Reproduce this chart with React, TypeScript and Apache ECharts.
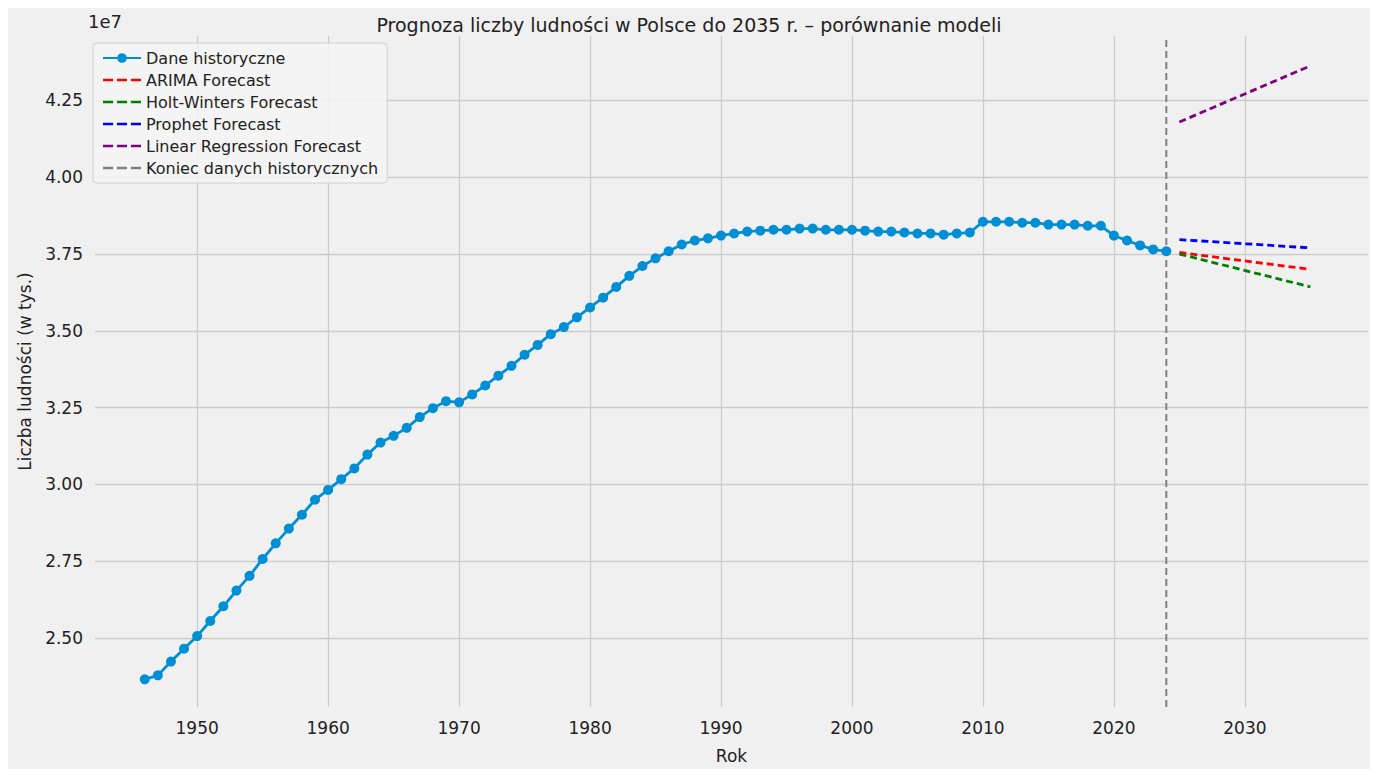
import { useEffect, useRef } from "react";
import * as echarts from "echarts";

// historical population, in millions
const years = [
  1946, 1947, 1948, 1949, 1950, 1951, 1952, 1953, 1954, 1955, 1956, 1957, 1958, 1959,
  1960, 1961, 1962, 1963, 1964, 1965, 1966, 1967, 1968, 1969, 1970, 1971, 1972, 1973,
  1974, 1975, 1976, 1977, 1978, 1979, 1980, 1981, 1982, 1983, 1984, 1985, 1986, 1987,
  1988, 1989, 1990, 1991, 1992, 1993, 1994, 1995, 1996, 1997, 1998, 1999, 2000, 2001,
  2002, 2003, 2004, 2005, 2006, 2007, 2008, 2009, 2010, 2011, 2012, 2013, 2014, 2015,
  2016, 2017, 2018, 2019, 2020, 2021, 2022, 2023, 2024,
];
const population = [
  23.65, 23.78, 24.23, 24.65, 25.06, 25.55, 26.03, 26.54, 27.02, 27.57, 28.08, 28.56,
  29.01, 29.5, 29.82, 30.17, 30.52, 30.97, 31.36, 31.58, 31.84, 32.19, 32.48, 32.71,
  32.67, 32.93, 33.22, 33.54, 33.86, 34.22, 34.54, 34.89, 35.12, 35.44, 35.76, 36.08,
  36.43, 36.79, 37.11, 37.36, 37.59, 37.81, 37.94, 38.01, 38.1, 38.17, 38.23, 38.26,
  38.29, 38.29, 38.33, 38.33, 38.29, 38.29, 38.29, 38.26, 38.23, 38.23, 38.2, 38.17,
  38.17, 38.13, 38.17, 38.2, 38.55, 38.55, 38.55, 38.52, 38.52, 38.46, 38.46, 38.46,
  38.42, 38.42, 38.1, 37.94, 37.78, 37.65, 37.59,
];
const forecastYears = [2025, 2035];
const arima = [37.55, 37.0];
const holtWinters = [37.5, 36.43];
const prophet = [37.97, 37.7];
const linearReg = [41.8, 43.63];
const lastYear = 2024;
const xTicks = [1950, 1960, 1970, 1980, 1990, 2000, 2010, 2020, 2030];
const yTicks = [25, 27.5, 30, 32.5, 35, 37.5, 40, 42.5];

const Y_MIN = 22.75;
const Y_MAX = 44.6;

const zip = (xs: number[], ys: number[]) => xs.map((x, i) => [x, ys[i]]);

const DASH_ICON = "path://M0,4h8v2h-8zM11,4h8v2h-8zM22,4h8v2h-8z";

export default function App() {
  const ref = useRef<HTMLDivElement>(null);

  useEffect(() => {
    const chart = echarts.init(ref.current!, null, { renderer: "svg" });
    const font = "DejaVu Sans";
    const dashed = (name: string, color: string, vals: number[]) => ({
      name,
      type: "line",
      data: zip(forecastYears, vals),
      symbol: "none",
      lineStyle: { color, width: 2.8, type: [7, 4] },
      itemStyle: { color },
    });
    chart.setOption({
      animation: false,
      backgroundColor: "#f0f0f0",
      textStyle: { fontFamily: font },
      title: {
        text: "Prognoza liczby ludności w Polsce do 2035 r. – porównanie modeli",
        left: "center",
        top: 2,
        textStyle: { fontSize: 19, fontWeight: "normal", color: "#222", fontFamily: font },
      },
      graphic: [
        { type: "text", left: 80, top: 4, style: { text: "1e7", fontSize: 18, fill: "#222", fontFamily: font } },
      ],
      legend: {
        orient: "vertical",
        left: 85,
        top: 35,
        backgroundColor: "rgba(245,245,245,0.85)",
        borderColor: "#d0d0d0",
        borderWidth: 1,
        borderRadius: 4,
        padding: [7, 9],
        itemGap: 6,
        itemWidth: 38,
        itemHeight: 12,
        textStyle: { fontSize: 16, color: "#222", fontFamily: font },
        data: [
          { name: "Dane historyczne" },
          { name: "ARIMA Forecast", icon: DASH_ICON },
          { name: "Holt-Winters Forecast", icon: DASH_ICON },
          { name: "Prophet Forecast", icon: DASH_ICON },
          { name: "Linear Regression Forecast", icon: DASH_ICON },
          { name: "Koniec danych historycznych", icon: DASH_ICON },
        ],
      },
      grid: { left: 85, right: 2, top: 28, bottom: 53 },
      xAxis: {
        type: "value",
        min: 1942.2,
        max: 2039.4,
        name: "Rok",
        nameLocation: "middle",
        nameGap: 40,
        nameTextStyle: { fontSize: 17, color: "#222" },
        axisLine: { show: false },
        axisTick: { show: false, customValues: xTicks },
        axisLabel: {
          customValues: xTicks,
          fontSize: 17,
          color: "#222",
          margin: 12,
          formatter: (v: number) => String(v),
        },
        splitLine: { show: true, lineStyle: { color: "#cbcbcb", width: 1.3 } },
      },
      yAxis: {
        type: "value",
        min: Y_MIN,
        max: Y_MAX,
        name: "Liczba ludności (w tys.)",
        nameLocation: "middle",
        nameGap: 62,
        nameTextStyle: { fontSize: 17, color: "#222" },
        axisLine: { show: false },
        axisTick: { show: false, customValues: yTicks },
        axisLabel: {
          customValues: yTicks,
          fontSize: 17,
          color: "#222",
          margin: 12,
          formatter: (v: number) => (v / 10).toFixed(2),
        },
        splitLine: { show: true, lineStyle: { color: "#cbcbcb", width: 1.3 } },
      },
      series: [
        {
          name: "Dane historyczne",
          type: "line",
          data: zip(years, population),
          symbol: "circle",
          symbolSize: 10,
          lineStyle: { color: "#008fd5", width: 2.8 },
          itemStyle: { color: "#008fd5" },
        },
        dashed("ARIMA Forecast", "#ff0000", arima),
        dashed("Holt-Winters Forecast", "#008000", holtWinters),
        dashed("Prophet Forecast", "#0000ff", prophet),
        dashed("Linear Regression Forecast", "#800080", linearReg),
        {
          name: "Koniec danych historycznych",
          type: "line",
          data: [
            [lastYear, Y_MIN],
            [lastYear, Y_MAX],
          ],
          symbol: "none",
          lineStyle: { color: "#808080", width: 2, type: [7, 4] },
          itemStyle: { color: "#808080" },
        },
      ],
    });
    return () => chart.dispose();
  }, []);

  return <div ref={ref} style={{ width: 1362, height: 761 }} />;
}
